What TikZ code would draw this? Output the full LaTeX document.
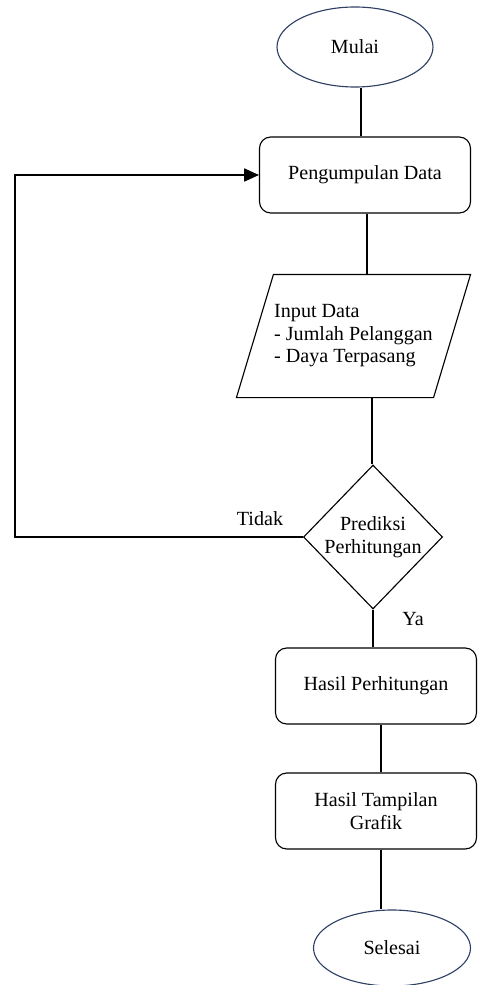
\documentclass[tikz,border=0pt]{standalone}
\usepackage{fontspec}
\setmainfont{Liberation Serif}
\usepackage{tikz}
\usetikzlibrary{calc,arrows.meta,shapes,shapes.geometric,positioning}
\definecolor{ovalline}{RGB}{47,64,100}

\begin{document}
\begin{tikzpicture}[
    font=\fontsize{14.3}{16}\selectfont,
    line width=0.8pt,
    terminal/.style={ellipse, draw=ovalline, inner sep=0pt},
    process/.style={rectangle, rounded corners=8pt, draw, align=center, inner sep=0pt},
    inputbox/.style={rectangle, align=left, inner sep=0pt},
    decision/.style={diamond, draw, align=center, inner sep=0pt},
    flow/.style={draw}
]
    % Frame
    \useasboundingbox (0,0) rectangle (11.975,-24.625);

    % Nodes
    \node[terminal, minimum width=3.9cm, minimum height=2.0cm] (mulai) at (8.875,-1.175) {Mulai};
    \node[process, minimum width=5.275cm, minimum height=1.9cm] (kumpul) at (9.125,-4.375) {Pengumpulan Data};
    \node[inputbox, minimum width=4.9cm, minimum height=3.05cm] (input) at (8.8375,-8.4) {Input Data\\- Jumlah Pelanggan\\- Daya Terpasang};
    \node[decision, minimum width=3.475cm, minimum height=3.6cm] (pred) at (9.325,-13.425) {Prediksi\\Perhitungan};
    \node[process, minimum width=5.025cm, minimum height=1.9cm] (hitung) at (9.4,-17.15) {Hasil Perhitungan};
    \node[process, minimum width=5.025cm, minimum height=1.9cm] (grafik) at (9.4,-20.275) {Hasil Tampilan\\Grafik};
    \node[terminal, minimum width=3.925cm, minimum height=1.9cm] (selesai) at (9.8,-23.7) {Selesai};

    % Parallelogram outline of the input
    \draw ($(input.north west)+(0.4625,0)$) -- ($(input.north east)+(0.4625,0)$)
        -- ($(input.south east)-(0.4625,0)$) -- ($(input.south west)-(0.4625,0)$) -- cycle;

    % Labels
    \node (tidak) at (6.5,-12.975) {Tidak};
    \node (ya) at (10.325,-15.475) {Ya};

    % Connectors
    \draw[flow] ([xshift=0.15cm]mulai.south) -- ([xshift=0.15cm]mulai.south |- kumpul.north);
    \draw[flow] ([xshift=0.05cm]kumpul.south) -- ([xshift=0.05cm]kumpul.south |- input.north);
    \draw[flow] ([xshift=0.4625cm]input.south) -- ([xshift=0.4625cm]input.south |- pred.north);
    \draw[flow] (pred.south) -- (pred.south |- hitung.north);
    \draw[flow] ([xshift=0.125cm]hitung.south) -- ([xshift=0.125cm]hitung.south |- grafik.north);
    \draw[flow] ([xshift=0.125cm]grafik.south) -- ([xshift=0.125cm]grafik.south |- selesai.north);

    % Loop back
    \coordinate (loop) at (0.375,-13.425);
    \draw[flow, -{Triangle[length=0.37cm, width=0.33cm]}] (pred.west) -- (loop) |- (kumpul.west);
\end{tikzpicture}
\end{document}
